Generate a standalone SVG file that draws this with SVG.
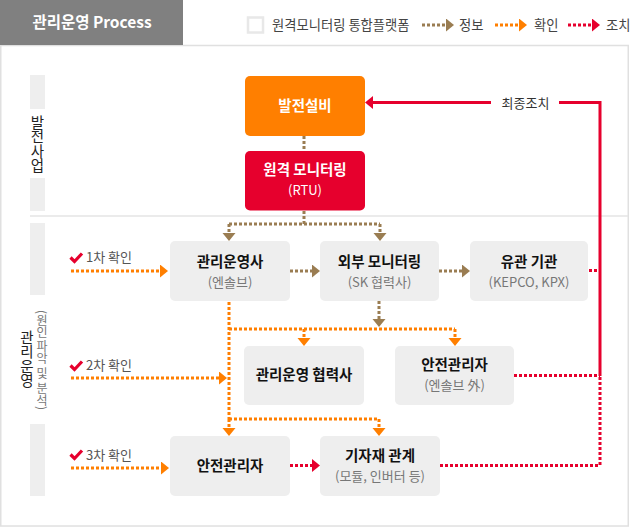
<svg xmlns="http://www.w3.org/2000/svg" width="630" height="527" viewBox="0 0 630 527">
<style>
text{font-family:"Noto Sans CJK KR","Noto Sans",sans-serif;}
.box{fill:#eeeeee;}
.t{font-size:14.5px;font-weight:bold;fill:#111;text-anchor:middle;}
.s{font-size:13px;fill:#777;text-anchor:middle;}
.tw{font-size:14.5px;font-weight:bold;fill:#fff;text-anchor:middle;}
.sw{font-size:13px;fill:#fff;text-anchor:middle;}
.lg{font-size:13.3px;fill:#444;}
.step{font-size:13px;fill:#555;}
.vt{writing-mode:vertical-rl;text-anchor:middle;}
.br{fill:none;stroke:#9a7d52;stroke-width:3;stroke-dasharray:3 2;}
.or{fill:none;stroke:#ff7f00;stroke-width:3;stroke-dasharray:3 2;}
.rd{fill:none;stroke:#e6002d;stroke-width:3;stroke-dasharray:3 2;}
.rs{fill:none;stroke:#e6002d;stroke-width:3;}
.chk{fill:none;stroke:#e6002d;stroke-width:3.2;}
.bar{fill:#eeeeee;}
</style>
<defs>
<marker id="aBr" markerUnits="userSpaceOnUse" markerWidth="9" markerHeight="14" refX="0" refY="6.5" orient="auto"><path d="M0,0 L8,6.5 L0,13 Z" fill="#9a7d52"/></marker>
<marker id="aOr" markerUnits="userSpaceOnUse" markerWidth="9" markerHeight="14" refX="0" refY="6.5" orient="auto"><path d="M0,0 L8,6.5 L0,13 Z" fill="#ff7f00"/></marker>
<marker id="aRd" markerUnits="userSpaceOnUse" markerWidth="9" markerHeight="14" refX="0" refY="6.5" orient="auto"><path d="M0,0 L8,6.5 L0,13 Z" fill="#e6002d"/></marker>
</defs>
<rect x="0" y="0" width="630" height="527" fill="#fff"/>
<g id="frame">
<rect x="0.75" y="45.5" width="627.5" height="480.5" fill="none" stroke="#e0e0e0" stroke-width="1.5"/>
<rect x="0" y="0" width="183" height="45" fill="#808080"/>
<text x="92" y="28" fill="#fff" font-size="15.5px" font-weight="bold" text-anchor="middle">관리운영 Process</text>
<line x1="30" y1="216" x2="628" y2="216" stroke="#e5e5e5" stroke-width="1.5"/>
</g>
<g id="legend">
<rect x="248" y="17.5" width="15" height="15" fill="#fff" stroke="#e8e8e8" stroke-width="2.5"/>
<text class="lg" x="272" y="30">원격모니터링 통합플랫폼</text>
<path class="br" d="M422,25 H446" marker-end="url(#aBr)"/>
<text class="lg" x="459" y="30">정보</text>
<path class="or" d="M495,25 H519" marker-end="url(#aOr)"/>
<text class="lg" x="534" y="30">확인</text>
<path class="rd" d="M568,25 H592" marker-end="url(#aRd)"/>
<text class="lg" x="606" y="30">조치</text>
</g>
<g id="lanes">
<rect class="bar" x="30" y="75" width="15" height="34"/>
<rect class="bar" x="30" y="178" width="15" height="33"/>
<rect class="bar" x="30" y="223" width="15" height="72"/>
<rect class="bar" x="30" y="424" width="15" height="72"/>
<text class="vt" x="37.5" y="144" font-size="14.5px" fill="#222">발전사업</text>
<text class="vt" x="27" y="359" font-size="14.5px" fill="#222">관리운영</text>
<text class="vt" x="42" y="360" font-size="12px" fill="#777">(원인 파악 및 분석)</text>
</g>
<g id="steps">
<path class="chk" d="M70.5,257.5 L74.5,261.5 L82,253.5"/>
<text class="step" x="86" y="261.5">1차 확인</text>
<path class="chk" d="M70.5,365.5 L74.5,369.5 L82,361.5"/>
<text class="step" x="86" y="369.5">2차 확인</text>
<path class="chk" d="M70.5,454.5 L74.5,458.5 L82,450.5"/>
<text class="step" x="86" y="459.5">3차 확인</text>
</g>
<g id="connectors">
<path class="br" d="M304,136 V151"/>
<path class="br" d="M304,211 V224"/>
<path class="br" d="M229,224 H380"/>
<path class="br" d="M229,224 V233" marker-end="url(#aBr)"/>
<path class="br" d="M380,224 V233" marker-end="url(#aBr)"/>
<path class="br" d="M290,271 H312" marker-end="url(#aBr)"/>
<path class="br" d="M439,271 H462" marker-end="url(#aBr)"/>
<path class="br" d="M379,301 V319" marker-end="url(#aBr)"/>
<path class="or" d="M71,271 H160" marker-end="url(#aOr)"/>
<path class="or" d="M71,378 H219" marker-end="url(#aOr)"/>
<path class="or" d="M71,468 H161" marker-end="url(#aOr)"/>
<path class="or" d="M229,302 V419"/>
<path class="or" d="M229,329 H455"/>
<path class="or" d="M304,329 V338" marker-end="url(#aOr)"/>
<path class="or" d="M455,329 V338" marker-end="url(#aOr)"/>
<path class="or" d="M229,419 H379"/>
<path class="or" d="M229,419 V428" marker-end="url(#aOr)"/>
<path class="or" d="M379,419 V428" marker-end="url(#aOr)"/>
<path class="rs" d="M600,376 V102.5 H559"/>
<path class="rs" d="M491,102.5 H373" marker-end="url(#aRd)"/>
<text x="525.5" y="107.5" font-size="13px" fill="#333" text-anchor="middle">최종조치</text>
<path class="rd" d="M589,270.5 H599"/>
<path class="rd" d="M514,375.5 H600"/>
<path class="rd" d="M600,377 V465.5"/>
<path class="rd" d="M440,465.5 H600"/>
<path class="rd" d="M290,465.5 H312" marker-end="url(#aRd)"/>
</g>
<g id="n-plant">
<rect x="245" y="76" width="120" height="60" rx="5" fill="#ff7f00"/>
<text class="tw" x="305" y="111">발전설비</text>
</g>
<g id="n-rtu">
<rect x="245" y="151" width="120" height="59.5" rx="5" fill="#e6002d"/>
<text class="tw" x="305" y="175">원격 모니터링</text>
<text class="sw" x="305" y="195">(RTU)</text>
</g>
<g id="n-operator">
<rect class="box" x="170" y="241" width="120" height="60" rx="5"/>
<text class="t" x="230" y="266.5">관리운영사</text>
<text class="s" x="230" y="286.5">(엔솔브)</text>
</g>
<g id="n-external">
<rect class="box" x="320" y="241" width="119" height="60" rx="5"/>
<text class="t" x="379.5" y="266.5">외부 모니터링</text>
<text class="s" x="379.5" y="286.5">(SK 협력사)</text>
</g>
<g id="n-agency">
<rect class="box" x="470" y="241" width="118" height="60" rx="5"/>
<text class="t" x="529" y="266.5">유관 기관</text>
<text class="s" x="529" y="286.5">(KEPCO, KPX)</text>
</g>
<g id="n-partner">
<rect class="box" x="244" y="346" width="120" height="59" rx="5"/>
<text class="t" x="304" y="379.5">관리운영 협력사</text>
</g>
<g id="n-safety1">
<rect class="box" x="395" y="346" width="119" height="59" rx="5"/>
<text class="t" x="454.5" y="369.5">안전관리자</text>
<text class="s" x="454.5" y="390">(엔솔브 外)</text>
</g>
<g id="n-safety2">
<rect class="box" x="170" y="436" width="120" height="60" rx="5"/>
<text class="t" x="230" y="470.5">안전관리자</text>
</g>
<g id="n-equipment">
<rect class="box" x="320" y="436" width="120" height="60" rx="5"/>
<text class="t" x="380" y="460.5">기자재 관계</text>
<text class="s" x="380" y="481">(모듈, 인버터 등)</text>
</g>
</svg>
